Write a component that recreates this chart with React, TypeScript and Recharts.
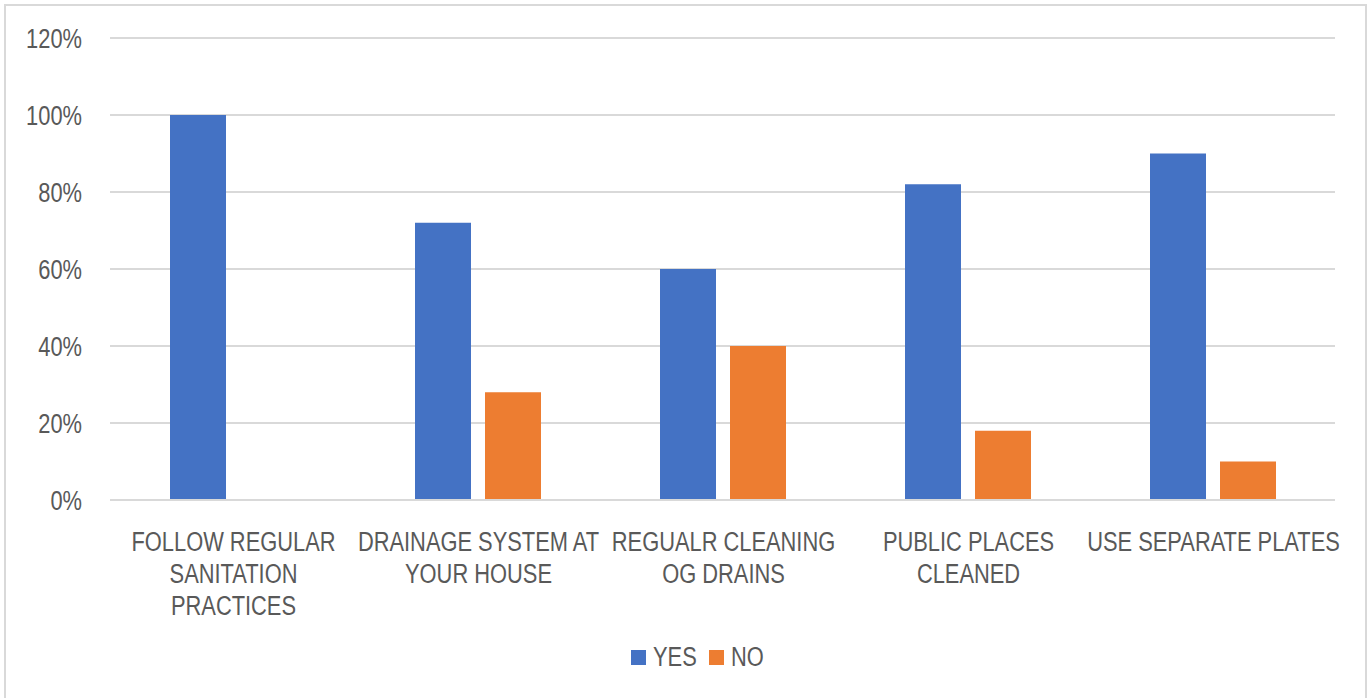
import React from 'react';
import { BarChart, Bar, XAxis, YAxis, CartesianGrid } from 'recharts';

// Categorías (saltos de línea como en el original)
const CATEGORIES = [
  'FOLLOW REGULAR\nSANITATION\nPRACTICES',
  'DRAINAGE SYSTEM AT\nYOUR HOUSE',
  'REGUALR CLEANING\nOG DRAINS',
  'PUBLIC PLACES\nCLEANED',
  'USE SEPARATE PLATES',
];
const YES_VALUES = [100, 72, 60, 82, 90];
const NO_VALUES = [0, 28, 40, 18, 10];
const Y_TICKS = [0, 20, 40, 60, 80, 100, 120];

const BLUE = '#4472C4';
const ORANGE = '#ED7D31';
const TEXT = '#595959';
const GRID = '#D9D9D9';
const FONT = "'Liberation Sans', Arial, sans-serif";
const FONT_SIZE = 27;
const SQUEEZE = 0.81; // el texto original es condensado

const data = CATEGORIES.map((name, i) => ({
  name,
  yes: YES_VALUES[i],
  no: NO_VALUES[i],
}));

const CategoryTick = ({ x, y, payload }: any) => {
  const lines = String(payload.value).split('\n');
  return (
    <g transform={`translate(${x + 1},${y}) scale(${SQUEEZE},1)`}>
      <text x={0} y={0} textAnchor="middle" fill={TEXT} fontSize={FONT_SIZE} fontFamily={FONT}>
        {lines.map((line, i) => (
          <tspan key={i} x={0} dy={i === 0 ? 43 : 32}>{line}</tspan>
        ))}
      </text>
    </g>
  );
};

const PercentTick = ({ x, y, payload }: any) => (
  <g transform={`translate(${x},${y}) scale(${SQUEEZE},1)`}>
    <text x={0} y={0} dy={9.5} textAnchor="end" fill={TEXT} fontSize={FONT_SIZE} fontFamily={FONT}>
      {`${payload.value}%`}
    </text>
  </g>
);

const LegendBox = () => {
  const items = [
    { label: 'YES', color: BLUE },
    { label: 'NO', color: ORANGE },
  ];
  return (
    <div style={{ position: 'absolute', left: 12, top: 642, width: 1372, display: 'flex', justifyContent: 'center', alignItems: 'center', fontFamily: FONT, fontSize: FONT_SIZE, color: TEXT }}>
      {items.map((it, i) => (
        <div key={it.label} style={{ display: 'flex', alignItems: 'center', marginLeft: i ? 10 : 0 }}>
          <div style={{ width: 15, height: 15, background: it.color, marginRight: 7 }} />
          <span style={{ display: 'inline-block', transform: `scaleX(${SQUEEZE})`, transformOrigin: 'left center', marginRight: it.label === 'YES' ? -8 : -6 }}>{it.label}</span>
        </div>
      ))}
    </div>
  );
};

export default function App() {
  return (
    <div style={{ position: 'absolute', left: 0, top: 0, width: 1372, height: 698, background: '#fff', overflow: 'hidden' }}>
      <style>{'body{margin:0}'}</style>
      <div style={{ position: 'absolute', left: 4, top: 4, width: 1363, height: 720, border: `2px solid ${GRID}`, boxSizing: 'border-box' }} />
      <BarChart
        width={1372}
        height={698}
        data={data}
        margin={{ top: 38, right: 37, bottom: 0, left: 0 }}
        barSize={56}
        barGap={14}
      >
        <CartesianGrid vertical={false} stroke={GRID} strokeWidth={2} />
        <XAxis
          dataKey="name"
          height={198}
          axisLine={{ stroke: GRID, strokeWidth: 2 }}
          tickLine={false}
          tick={<CategoryTick />}
          interval={0}
        />
        <YAxis
          width={110}
          domain={[0, 120]}
          ticks={Y_TICKS}
          axisLine={false}
          tickLine={false}
          tickSize={0}
          tickMargin={28}
          tick={<PercentTick />}
        />
        <Bar dataKey="yes" name="YES" fill={BLUE} isAnimationActive={false} />
        <Bar dataKey="no" name="NO" fill={ORANGE} isAnimationActive={false} />
      </BarChart>
      <LegendBox />
    </div>
  );
}
